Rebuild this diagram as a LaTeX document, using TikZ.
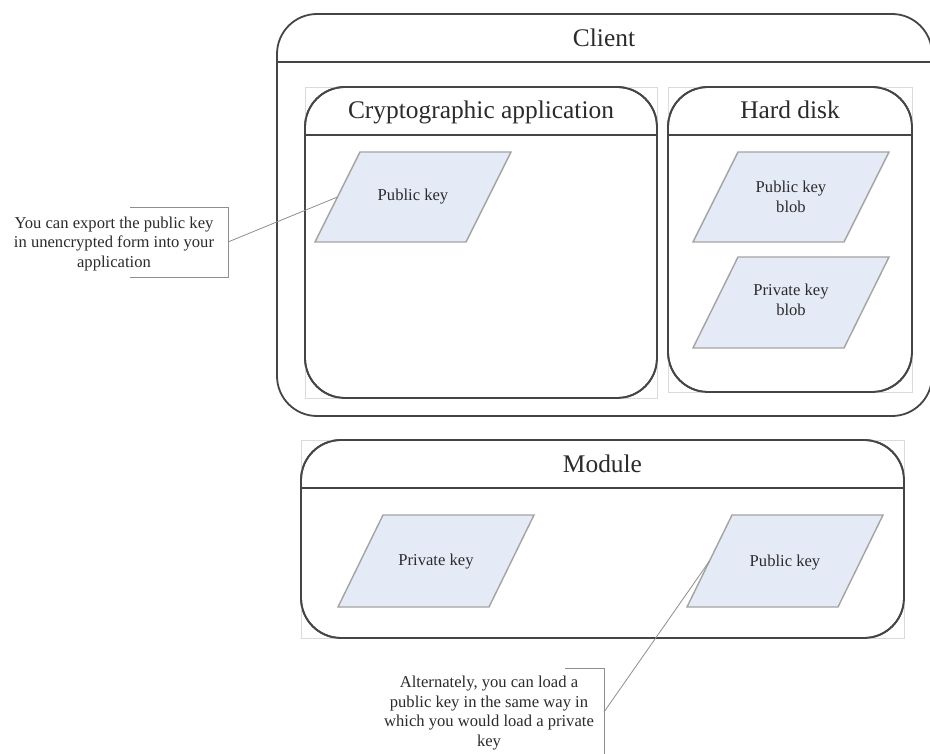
\documentclass[tikz,border=0pt]{standalone}
\usepackage{fontspec}
\setmainfont{Liberation Serif}
\usetikzlibrary{backgrounds}
\definecolor{boxline}{HTML}{454545}
\definecolor{keyfill}{HTML}{E5EBF6}
\definecolor{keyline}{HTML}{A3A3A3}
\definecolor{faintline}{HTML}{DADADA}
\definecolor{callline}{HTML}{8E8E8E}
\definecolor{txt}{HTML}{2B2B2B}
\tikzset{
  container/.style={draw=boxline, line width=1.8pt, rounded corners=40pt, inner sep=0pt, outer sep=0pt, fill=white},
  selbox/.style={draw=faintline, line width=0.8pt},
  hdr/.style={draw=boxline, line width=1.8pt},
  titletext/.style={font=\fontsize{25.4}{30}\selectfont, text=txt, anchor=base, inner sep=0pt},
  keyshape/.style={draw=keyline, line width=1.4pt, fill=keyfill, line join=miter},
  keytext/.style={font=\fontsize{16.6}{19.5}\selectfont, text=txt, align=center, inner sep=0pt},
  calltext/.style={font=\fontsize{16.6}{19.5}\selectfont, text=txt, align=center, inner sep=0pt},
  bracketline/.style={draw=callline, line width=0.9pt},
  leader/.style={draw=callline, line width=0.8pt},
}
\newcommand{\mykeybox}[6]{%
  \draw[keyshape] (#2,#4) -- ({#2+151},#4) -- ({#2+196},#3) -- ({#2+45},#3) -- cycle;
  \node[keytext] (#1) at ({#2+98},#5) {#6};
  \coordinate (#1-w) at ({#2+22.5},{(#3+#4)/2});
}
\begin{document}
\begin{tikzpicture}[x=1pt,y=-1pt]
\useasboundingbox (0,0) rectangle (930,754);
\fill[white] (0,0) rectangle (930,754);

% Client
\node[container, minimum width=655pt, minimum height=402pt] (client) at (604.5,215) {};
\draw[hdr] (client.west |- 0,62) -- (client.east |- 0,62);
\node[titletext] (clientT) at (604,47) {Client};

% Cryptographic application
\node[container, minimum width=352pt, minimum height=311pt] (crypto) at (481,242.5) {};
\draw[hdr] (crypto.west |- 0,135) -- (crypto.east |- 0,135);
\node[titletext] (cryptoT) at (481,119) {Cryptographic application};

% Hard disk
\node[container, minimum width=244pt, minimum height=305pt] (disk) at (790,239.5) {};
\draw[hdr] (disk.west |- 0,135) -- (disk.east |- 0,135);
\node[titletext] (diskT) at (790,119) {Hard disk};

% Module
\node[container, minimum width=603pt, minimum height=198pt] (module) at (602.5,539) {};
\draw[hdr] (module.west |- 0,488) -- (module.east |- 0,488);
\node[titletext] (moduleT) at (602.5,472) {Module};

\begin{scope}[on background layer]
  \draw[selbox] (client.north west) rectangle (client.south east);
\end{scope}
\draw[selbox] (crypto.north west) -- (crypto.north east) -- (crypto.south east) -- (crypto.south west) -- cycle;
\draw[selbox] (disk.north west) -- (disk.north east) -- (disk.south east) -- (disk.south west) -- cycle;
\draw[selbox] (module.north west) -- (module.north east) -- (module.south east) -- (module.south west) -- cycle;
% redraw borders on top of the faint selection frames
\node[container, fill=none, minimum width=352pt, minimum height=311pt] (cryptoB) at (481,242.5) {};
\node[container, fill=none, minimum width=244pt, minimum height=305pt] (diskB) at (790,239.5) {};
\node[container, fill=none, minimum width=603pt, minimum height=198pt] (moduleB) at (602.5,539) {};

% keys
\mykeybox{pkA}{315}{152}{242}{197}{Public key}
\mykeybox{pkB}{693}{152}{242}{197}{Public key\\blob}
\mykeybox{prB}{693}{257}{348}{300}{Private key\\blob}
\mykeybox{prM}{338}{515}{607}{562}{Private key}
\mykeybox{pkM}{687}{515}{607}{563}{Public key}

% left callout
\node[calltext] (callA) at (114,244) {You can export the public key\\in unencrypted form into your\\application};
\coordinate (bA1) at (130,207);
\coordinate (bA2) at (228,207);
\coordinate (bA3) at (228,277);
\coordinate (bA4) at (130,277);
\coordinate (bAm) at (228,242);
\draw[bracketline] (bA1) -- (bA2) -- (bA3) -- (bA4);
\draw[leader] (bAm) -- (pkA-w);

% bottom callout
\node[calltext] (callB) at (489,713) {Alternately, you can load a\\public key in the same way in\\which you would load a private\\key};
\coordinate (bB1) at (565,668);
\coordinate (bB2) at (604,668);
\coordinate (bB3) at (604,756);
\coordinate (bB4) at (565,756);
\coordinate (bBm) at (604,712);
\draw[bracketline] (bB1) -- (bB2) -- (bB3) -- (bB4);
\draw[leader] (bBm) -- (pkM-w);
\end{tikzpicture}
\end{document}
